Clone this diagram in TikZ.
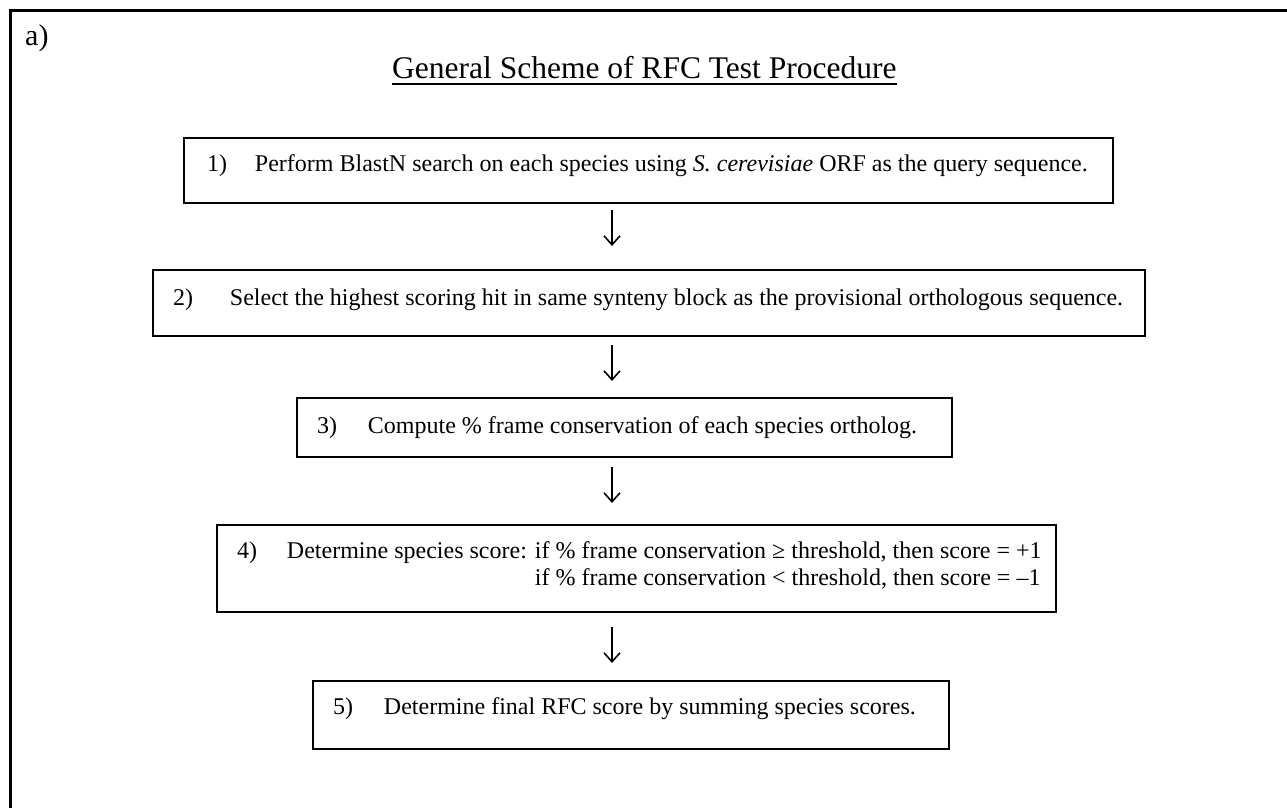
\documentclass[tikz,border=0pt]{standalone}
\usepackage{fontspec}
\setmainfont{Liberation Serif}
\usetikzlibrary{arrows.meta}
\begin{document}
\begin{tikzpicture}[x=1pt,y=-1pt,
  box/.style={draw, line width=2pt, rectangle, inner sep=0pt, outer sep=0pt, anchor=north west},
  txt/.style={anchor=base west, inner sep=0pt, outer sep=0pt, font=\fontsize{24}{28}\selectfont},
  arr/.style={line width=1.6pt, -{Straight Barb[length=9pt,width=16pt,line width=1.6pt]}}]
\useasboundingbox (0,0) rectangle (1287,808);
% frame (cropped: only top and left edges visible)
\draw[line width=3pt] (10.5,830) -- (10.5,10.5) -- (1300,10.5);
\node[anchor=base west, inner sep=0pt, font=\fontsize{30}{34}\selectfont] (lbl) at (25,46) {a)};
\node[anchor=base west, inner sep=0pt, font=\fontsize{31.5}{36}\selectfont] (title) at (392,78) {General Scheme of RFC Test Procedure};
\draw[line width=2pt] ([yshift=-6pt]title.base west) -- ([yshift=-6pt]title.base east);
% boxes
\node[box, minimum width=929pt, minimum height=65pt] (b1) at (184,138) {};
\node[box, minimum width=992pt, minimum height=66pt] (b2) at (153,270) {};
\node[box, minimum width=655pt, minimum height=59pt] (b3) at (297,398) {};
\node[box, minimum width=839pt, minimum height=87pt] (b4) at (217,525) {};
\node[box, minimum width=636pt, minimum height=68pt] (b5) at (313,681) {};
% texts
\node[txt] (t1) at (207,171) {\makebox[48pt][l]{1)}Perform BlastN search on each species using \textit{S. cerevisiae} ORF as the query sequence.};
\node[txt] (t2) at (173,305) {\makebox[57pt][l]{2)}Select the highest scoring hit in same synteny block as the provisional orthologous sequence.};
\node[txt] (t3) at (317,433) {\makebox[51pt][l]{3)}Compute \% frame conservation of each species ortholog.};
\node[txt] (t4) at (237,558) {\makebox[50pt][l]{4)}Determine species score: if \% frame conservation ≥ threshold, then score = +1};
\node[txt] (t4b) at (237,585) {\hphantom{\makebox[50pt][l]{4)}Determine species score: }if \% frame conservation < threshold, then score = –1};
\node[txt] (t5) at (333,714) {\makebox[51pt][l]{5)}Determine final RFC score by summing species scores.};
% arrows
\coordinate (ax) at (612,0);
\draw[arr, shorten <=7pt, shorten >=24pt] (b1.south -| ax) -- (b2.north -| ax);
\draw[arr, shorten <=9pt, shorten >=17pt] (b2.south -| ax) -- (b3.north -| ax);
\draw[arr, shorten <=10pt, shorten >=22pt] (b3.south -| ax) -- (b4.north -| ax);
\draw[arr, shorten <=15pt, shorten >=18pt] (b4.south -| ax) -- (b5.north -| ax);
\end{tikzpicture}
\end{document}
